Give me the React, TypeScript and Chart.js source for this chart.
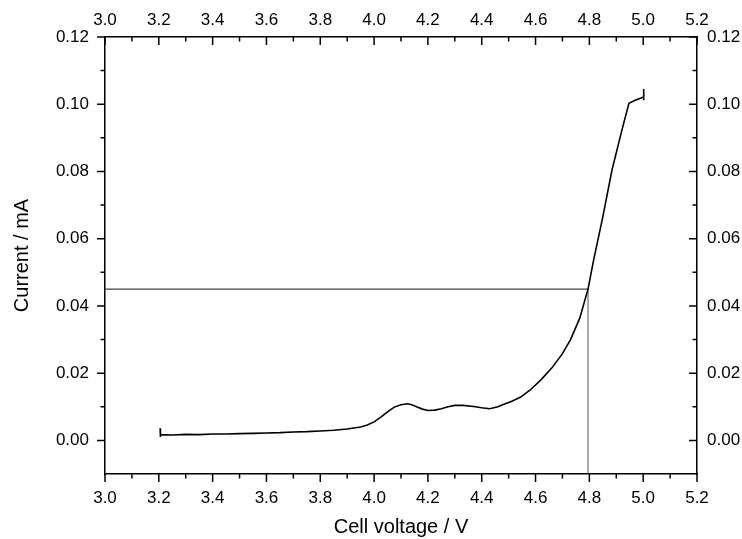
import { useEffect, useRef } from "react";
import { Chart, registerables } from "chart.js";

Chart.register(...registerables);

// ---- data ----
const VOLTAGE = [
  3.205, 3.205, 3.207, 3.25, 3.3, 3.35, 3.4, 3.45, 3.5, 3.55, 3.6, 3.65, 3.7, 3.75, 3.8, 3.85, 3.9, 3.95,
  3.975, 4.0, 4.025, 4.05, 4.075, 4.1, 4.125, 4.14, 4.16, 4.18, 4.2, 4.225, 4.25, 4.275, 4.3, 4.33, 4.37,
  4.4, 4.43, 4.46, 4.48, 4.51, 4.545, 4.58, 4.62, 4.66, 4.7, 4.73, 4.764, 4.795, 4.816, 4.85, 4.884, 4.92,
  4.947, 4.97, 4.99, 5.002, 5.002, 5.002,
];
const CURRENT = [
  0.0036, 0.001, 0.0017, 0.0016, 0.0018, 0.0017, 0.0019, 0.0019, 0.002, 0.0021, 0.0022, 0.0023, 0.0025,
  0.0026, 0.0028, 0.003, 0.0034, 0.004, 0.0046, 0.0055, 0.0069, 0.0085, 0.0099, 0.0106, 0.0109, 0.0106,
  0.0099, 0.0093, 0.0089, 0.009, 0.0094, 0.01, 0.0104, 0.0104, 0.0101, 0.0097, 0.0094, 0.01, 0.0107,
  0.0116, 0.0129, 0.015, 0.018, 0.0215, 0.0258, 0.03, 0.0363, 0.045, 0.0537, 0.0665, 0.0804, 0.092,
  0.1003, 0.1012, 0.1018, 0.1022, 0.1045, 0.1012,
];

const MARKER_VOLTAGE = 4.795;
const MARKER_CURRENT = 0.045;

const X_MIN = 3.0;
const X_MAX = 5.2;
const Y_MIN = -0.01;
const Y_MAX = 0.12;

const X_MAJOR = [3.0, 3.2, 3.4, 3.6, 3.8, 4.0, 4.2, 4.4, 4.6, 4.8, 5.0, 5.2];
const X_MINOR = [3.1, 3.3, 3.5, 3.7, 3.9, 4.1, 4.3, 4.5, 4.7, 4.9, 5.1];
const Y_MAJOR = [0.0, 0.02, 0.04, 0.06, 0.08, 0.1, 0.12];
const Y_MINOR = [0.01, 0.03, 0.05, 0.07, 0.09, 0.11];

const X_TITLE = "Cell voltage / V";
const Y_TITLE = "Current / mA";

const FONT_FAMILY = "'Liberation Sans', Arial, sans-serif";

const tickMarks = {
  id: "tickMarks",
  afterDraw(chart: any) {
    const { ctx, chartArea: a, scales } = chart;
    const xs = scales.x;
    const ys = scales.y;
    ctx.save();
    ctx.strokeStyle = "#000";
    ctx.lineWidth = 1.5;
    ctx.beginPath();
    const xTick = (v: number, len: number) => {
      const p = xs.getPixelForValue(v);
      ctx.moveTo(p, a.bottom);
      ctx.lineTo(p, a.bottom + len); // outward at bottom
      ctx.moveTo(p, a.top);
      ctx.lineTo(p, a.top + len); // inward at top
    };
    const yTick = (v: number, len: number) => {
      const p = ys.getPixelForValue(v);
      ctx.moveTo(a.left, p);
      ctx.lineTo(a.left - len, p); // outward at left
      ctx.moveTo(a.right, p);
      ctx.lineTo(a.right - len, p); // inward at right
    };
    X_MAJOR.forEach((v) => xTick(v, 8));
    X_MINOR.forEach((v) => xTick(v, 4.5));
    Y_MAJOR.forEach((v) => yTick(v, 8));
    Y_MINOR.forEach((v) => yTick(v, 4.5));
    ctx.stroke();
    ctx.restore();
  },
};

export default function App() {
  const ref = useRef<HTMLCanvasElement | null>(null);

  useEffect(() => {
    if (!ref.current) return;
    Chart.defaults.font.family = FONT_FAMILY;
    const tickFont = { size: 17, family: FONT_FAMILY };
    const titleFont = { size: 20, family: FONT_FAMILY };
    const common = {
      grid: { display: false, drawTicks: false },
      border: { display: true, color: "#000", width: 1.5 },
    };
    const xAxis = (position: string, height: number, withTitle: boolean, pad: number) => ({
      type: "linear",
      position,
      min: X_MIN,
      max: X_MAX,
      ...common,
      afterBuildTicks: (s: any) => {
        s.ticks = X_MAJOR.map((v) => ({ value: v }));
      },
      afterFit: (s: any) => {
        s.height = height;
      },
      ticks: {
        callback: (v: number) => Number(v).toFixed(1),
        font: tickFont,
        color: "#000",
        padding: pad,
        autoSkip: false,
        maxRotation: 0,
      },
      title: withTitle
        ? { display: true, text: X_TITLE, color: "#000", font: titleFont, padding: { top: 0, bottom: 0 } }
        : { display: false },
    });
    const yAxis = (position: string, width: number, withTitle: boolean, pad: number) => ({
      type: "linear",
      position,
      min: Y_MIN,
      max: Y_MAX,
      ...common,
      afterBuildTicks: (s: any) => {
        s.ticks = Y_MAJOR.map((v) => ({ value: v }));
      },
      afterFit: (s: any) => {
        s.width = width;
      },
      ticks: {
        callback: (v: number) => Number(v).toFixed(2),
        font: tickFont,
        color: "#000",
        padding: pad,
        autoSkip: false,
      },
      title: withTitle
        ? { display: true, text: Y_TITLE, color: "#000", font: titleFont, padding: { top: 10, bottom: 0 } }
        : { display: false },
    });

    const chart = new Chart(ref.current, {
      type: "scatter",
      data: {
        datasets: [
          {
            data: VOLTAGE.map((v, i) => ({ x: v, y: CURRENT[i] })),
            showLine: true,
            borderColor: "#000",
            borderWidth: 1.6,
            pointRadius: 0,
            tension: 0,
            xAxisID: "x",
            yAxisID: "y",
          },
          {
            data: [
              { x: X_MIN, y: MARKER_CURRENT },
              { x: MARKER_VOLTAGE, y: MARKER_CURRENT },
            ],
            showLine: true,
            borderColor: "#111",
            borderWidth: 1,
            pointRadius: 0,
            xAxisID: "x",
            yAxisID: "y",
          },
          {
            data: [
              { x: MARKER_VOLTAGE, y: Y_MIN },
              { x: MARKER_VOLTAGE, y: MARKER_CURRENT },
            ],
            showLine: true,
            borderColor: "#555",
            borderWidth: 1,
            pointRadius: 0,
            xAxisID: "x",
            yAxisID: "y",
          },
        ],
      },
      options: {
        responsive: false,
        animation: false,
        layout: { padding: 0 },
        plugins: { legend: { display: false }, tooltip: { enabled: false } },
        scales: {
          x: xAxis("bottom", 65, true, 14),
          x2: xAxis("top", 37, false, 6),
          y: yAxis("left", 105, true, 16),
          y2: yAxis("right", 45, false, 10),
        } as any,
      },
      plugins: [tickMarks],
    });
    return () => chart.destroy();
  }, []);

  return (
    <div style={{ position: "absolute", left: 0, top: 0, width: 742, height: 539, background: "#fff" }}>
      <canvas ref={ref} width={742} height={539} style={{ display: "block" }} />
    </div>
  );
}
